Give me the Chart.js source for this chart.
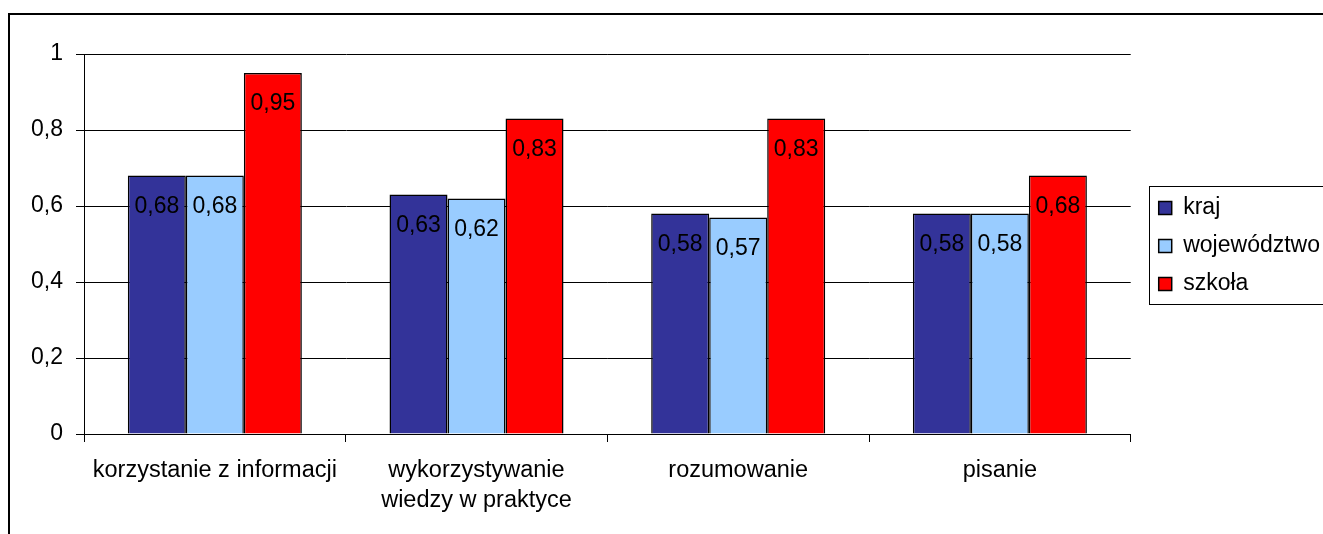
<!DOCTYPE html>
<html>
<head>
<meta charset="utf-8">
<script src="https://cdn.jsdelivr.net/npm/chart.js@4"></script>
<style>
  body { margin: 0; background: #fff; overflow: hidden; }
  #wrap { position: relative; width: 1323px; height: 534px; overflow: hidden; }
  #frame {
    position: absolute; left: 8px; top: 13px; width: 1400px; height: 600px;
    border-left: 2px solid #000; border-top: 2px solid #000;
  }
  #myChart { position: absolute; left: 0; top: 0; }
</style>
</head>
<body>
<div id="wrap">
  <div id="frame"></div>
  <canvas id="myChart" width="1323" height="534"></canvas>
</div>
<script>
const categories = [
  "korzystanie z informacji",
  ["wykorzystywanie", "wiedzy w praktyce"],
  "rozumowanie",
  "pisanie",
];
const kraj = [0.68, 0.63, 0.58, 0.58];
const wojewodztwo = [0.68, 0.62, 0.57, 0.58];
const szkola = [0.95, 0.83, 0.83, 0.68];
const series_names = ["kraj", "województwo", "szkoła"];

const font_name = "'Liberation Sans', Arial, sans-serif";

function comma(v) {
  return String(Math.round(v * 100) / 100).replace(".", ",");
}

// value labels inside the top of each bar
const barLabels = {
  id: "barLabels",
  afterDatasetsDraw(chart) {
    const ctx = chart.ctx;
    ctx.save();
    ctx.font = "23px " + font_name;
    ctx.fillStyle = "#000";
    ctx.textAlign = "center";
    ctx.textBaseline = "middle";
    chart.data.datasets.forEach((ds, i) => {
      chart.getDatasetMeta(i).data.forEach((bar, j) => {
        ctx.fillText(comma(ds.data[j]), bar.x, bar.y + 31);
      });
    });
    ctx.restore();
  },
};

// move the legend a bit off the plot, then frame it
const legendBox = {
  id: "legendBox",
  afterLayout(chart) {
    const lg = chart.legend;
    lg.left += 13;
    lg.right += 13;
    lg.top += 2;
    lg.bottom += 2;
  },
  afterDraw(chart) {
    const boxes = chart.legend.legendHitBoxes;
    if (!boxes || !boxes.length) return;
    const first = boxes[0];
    const last = boxes[boxes.length - 1];
    const ctx = chart.ctx;
    const left = first.left - 10;
    const top = first.top - 11;
    const bottom = last.top + last.height + 8;
    ctx.save();
    ctx.strokeStyle = "#000";
    ctx.lineWidth = 1;
    ctx.strokeRect(Math.round(left) + 0.5, Math.round(top) + 0.5, 1400, Math.round(bottom - top));
    ctx.restore();
  },
};

let ctx = document.getElementById("myChart").getContext("2d");
let myChart = new Chart(ctx, {
  type: "bar",
  data: {
    labels: categories,
    datasets: [
      {
        label: series_names[0],
        data: kraj,
        backgroundColor: "#333399",
        borderColor: "#000",
        borderWidth: 1.5,
      },
      {
        label: series_names[1],
        data: wojewodztwo,
        backgroundColor: "#99CCFF",
        borderColor: "#000",
        borderWidth: 1.5,
      },
      {
        label: series_names[2],
        data: szkola,
        backgroundColor: "#FF0000",
        borderColor: "#000",
        borderWidth: 1.5,
      },
    ],
  },
  options: {
    responsive: false,
    animation: false,
    devicePixelRatio: 1,
    layout: { padding: { top: 54, left: 0, right: 6, bottom: 0 } },
    datasets: {
      bar: { categoryPercentage: 0.665, barPercentage: 1 },
    },
    font: { family: font_name },
    scales: {
      x: {
        afterFit: (scale) => { scale.height = 100; },
        grid: {
          offset: true,
          drawOnChartArea: false,
          drawTicks: true,
          tickLength: 8,
          color: "#000",
          lineWidth: 1,
        },
        border: { color: "#000", width: 1 },
        ticks: {
          color: "#000",
          font: { size: 23.5, family: font_name, lineHeight: 1.28 },
          padding: 13,
          maxRotation: 0,
          autoSkip: false,
        },
      },
      y: {
        min: 0,
        max: 1,
        afterFit: (scale) => { scale.width = 84; },
        grid: {
          color: "#000",
          lineWidth: 1,
          drawTicks: true,
          tickLength: 8,
        },
        border: { color: "#000", width: 1 },
        ticks: {
          stepSize: 0.2,
          color: "#000",
          font: { size: 23, family: font_name },
          padding: 13,
          callback: (v) => comma(v),
        },
      },
    },
    plugins: {
      tooltip: { enabled: false },
      legend: {
        position: "right",
        fullSize: false,
        labels: {
          boxWidth: 13,
          boxHeight: 13,
          padding: 15,
          color: "#000",
          font: { size: 23, family: font_name },
        },
      },
    },
  },
  plugins: [barLabels, legendBox],
});
</script>
</body>
</html>
